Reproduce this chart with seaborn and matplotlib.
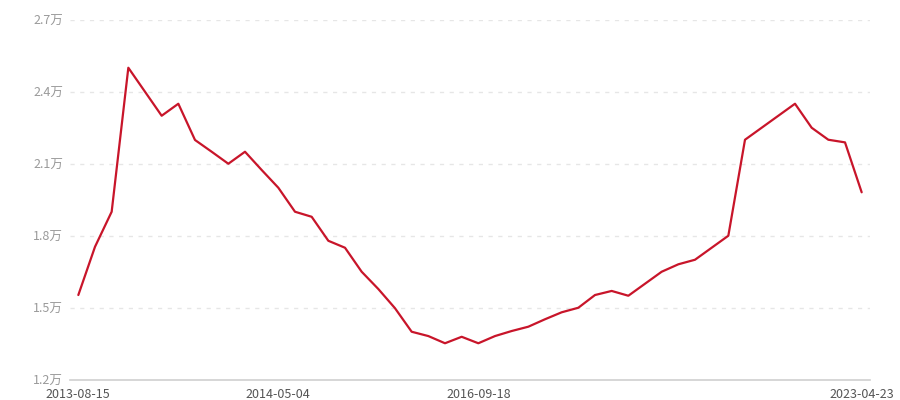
import matplotlib
matplotlib.use("Agg")
import matplotlib.pyplot as plt
import seaborn as sns

# values in 万
values = [1.552, 1.753, 1.899, 2.499, 2.399, 2.299, 2.349, 2.198, 2.149, 2.099,
          2.149, 2.073, 1.999, 1.899, 1.878, 1.778, 1.749, 1.649, 1.577, 1.497,
          1.399, 1.381, 1.351, 1.378, 1.351, 1.381, 1.402, 1.420, 1.451, 1.480,
          1.499, 1.552, 1.569, 1.549, 1.599, 1.649, 1.680, 1.699, 1.749, 1.799,
          2.199, 2.249, 2.299, 2.349, 2.249, 2.199, 2.188, 1.980]
tick_pos = [0, 12, 24, 47]
tick_labels = ["2013-08-15", "2014-05-04", "2016-09-18", "2023-04-23"]
y_ticks = [1.2, 1.5, 1.8, 2.1, 2.4, 2.7]

sns.set_style("white")
plt.rcParams['font.family'] = ['Noto Sans CJK SC', 'DejaVu Sans']

fig = plt.figure(figsize=(9, 4), dpi=100)
ax = fig.add_axes([70 / 900, 20.5 / 400, 800 / 900, 360 / 400])

sns.lineplot(x=list(range(len(values))), y=values, ax=ax, color="#c8152a", linewidth=1.6)

ax.set_xlim(-0.5, len(values) - 0.5)
ax.set_ylim(1.2, 2.7)
ax.set_yticks(y_ticks)
ax.set_yticklabels([f"{v:.1f}万" for v in y_ticks])
ax.set_xticks(tick_pos)
ax.set_xticklabels(tick_labels)

ax.grid(axis="y", color="#e6e6e6", linestyle=(0, (3, 4)), linewidth=1)
ax.set_axisbelow(True)
for s in ["top", "right", "left"]:
    ax.spines[s].set_visible(False)
ax.spines["bottom"].set_color("#d0d0d0")
ax.spines["bottom"].set_linewidth(1.2)

ax.tick_params(axis="y", length=0, pad=5, labelsize=9, labelcolor="#9a9a9a")
ax.tick_params(axis="x", length=4, color="#d0d0d0", pad=2, labelsize=9, labelcolor="#555555")
ax.set_xlabel("")
ax.set_ylabel("")

fig.savefig("out.png", dpi=100)
